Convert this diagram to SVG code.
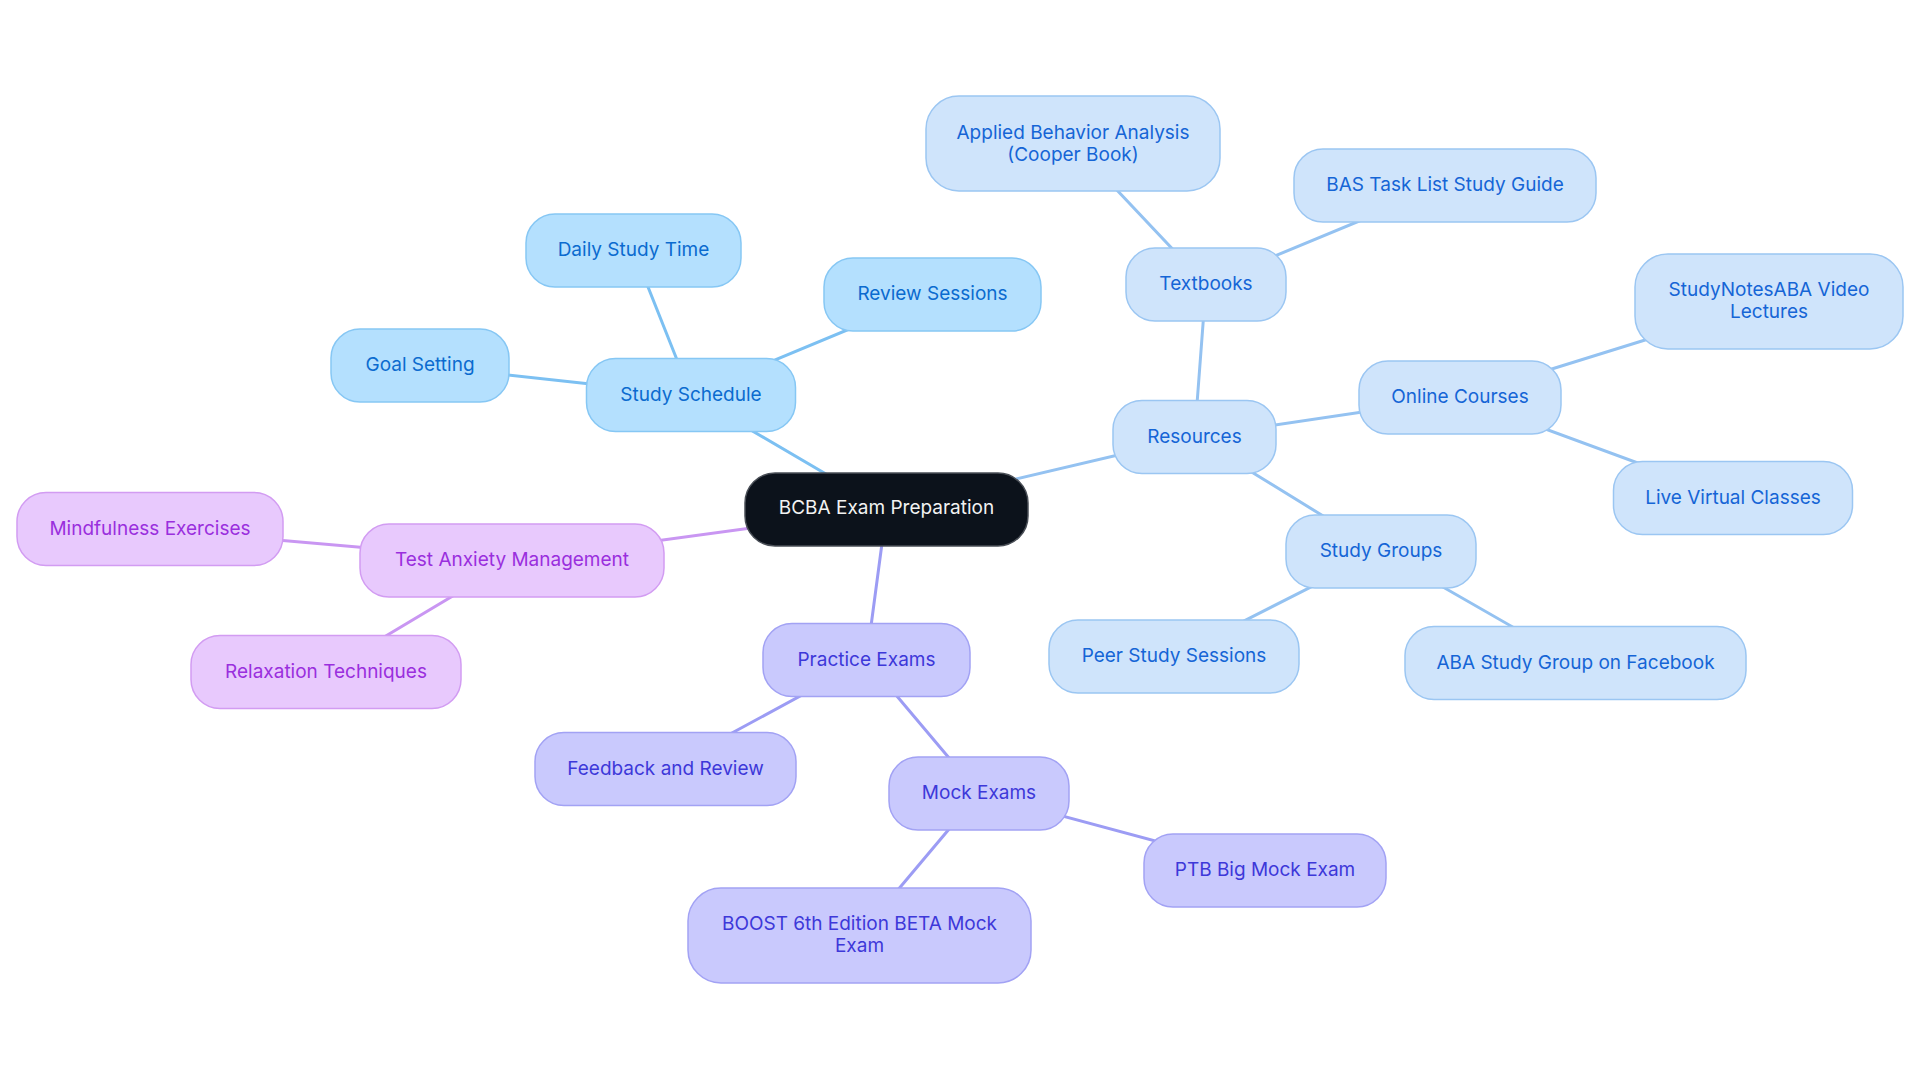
<svg xmlns="http://www.w3.org/2000/svg" width="1920" height="1083" viewBox="0 0 1920 1083">
<style>
text{font-family:Inter,"Noto Sans","Liberation Sans",sans-serif;font-size:19px;text-anchor:middle}
.e{fill:none;stroke-width:3;stroke-linecap:round}
.es{stroke:#7cc0f2}.er{stroke:#94c2f1}.ea{stroke:#c996f2}.ep{stroke:#9c9cf4}
rect{stroke-width:1.5}
.root rect{fill:#0c121b;stroke:#4a4f57}.root text{fill:#f2f2f2}
.s rect{fill:#b4e0fe;stroke:#86c7f4}.s text{fill:#0b6bcf}
.r rect{fill:#cfe4fb;stroke:#9bc6f2}.r text{fill:#1565d6}
.a rect{fill:#e8c9fd;stroke:#d29cf2}.a text{fill:#9a2fdd}
.p rect{fill:#c9c9fd;stroke:#a2a2f4}.p text{fill:#3d38d9}
</style>
<rect width="1920" height="1083" fill="#ffffff"/>
<g id="connectors">
<line class="e es" x1="886.5" y1="509.5" x2="691" y2="395"/>
<line class="e es" x1="691" y1="395" x2="633.5" y2="250.5"/>
<line class="e es" x1="691" y1="395" x2="932.5" y2="294.5"/>
<line class="e es" x1="691" y1="395" x2="420" y2="365.5"/>
<line class="e er" x1="886.5" y1="509.5" x2="1194.5" y2="437"/>
<line class="e er" x1="1194.5" y1="437" x2="1206" y2="284.5"/>
<line class="e er" x1="1206" y1="284.5" x2="1073" y2="143.5"/>
<line class="e er" x1="1206" y1="284.5" x2="1445" y2="185.5"/>
<line class="e er" x1="1194.5" y1="437" x2="1460" y2="397.5"/>
<line class="e er" x1="1460" y1="397.5" x2="1769" y2="301.5"/>
<line class="e er" x1="1460" y1="397.5" x2="1733" y2="498"/>
<line class="e er" x1="1194.5" y1="437" x2="1381" y2="551.5"/>
<line class="e er" x1="1381" y1="551.5" x2="1174" y2="656.5"/>
<line class="e er" x1="1381" y1="551.5" x2="1575.5" y2="663"/>
<line class="e ea" x1="886.5" y1="509.5" x2="512" y2="560.5"/>
<line class="e ea" x1="512" y1="560.5" x2="150" y2="529"/>
<line class="e ea" x1="512" y1="560.5" x2="325.6" y2="672"/>
<line class="e ep" x1="886.5" y1="509.5" x2="866.5" y2="660"/>
<line class="e ep" x1="866.5" y1="660" x2="665.5" y2="769"/>
<line class="e ep" x1="866.5" y1="660" x2="979" y2="793.5"/>
<line class="e ep" x1="979" y1="793.5" x2="1265" y2="870.5"/>
<line class="e ep" x1="979" y1="793.5" x2="859.5" y2="935.5"/>
</g>
<g id="n-root" class="root"><rect x="745" y="473" width="283" height="73" rx="30"/><text x="886.5" y="514">BCBA Exam Preparation</text></g>
<g id="n-study-schedule" class="s"><rect x="586.5" y="358.5" width="209" height="73" rx="29"/><text x="691" y="400.5">Study Schedule</text></g>
<g id="n-daily-study-time" class="s"><rect x="526" y="214" width="215" height="73" rx="29"/><text x="633.5" y="256">Daily Study Time</text></g>
<g id="n-review-sessions" class="s"><rect x="824" y="258" width="217" height="73" rx="29"/><text x="932.5" y="300">Review Sessions</text></g>
<g id="n-goal-setting" class="s"><rect x="331" y="329" width="178" height="73" rx="29"/><text x="420" y="371">Goal Setting</text></g>
<g id="n-resources" class="r"><rect x="1113" y="400.5" width="163" height="73" rx="29"/><text x="1194.5" y="442.5">Resources</text></g>
<g id="n-textbooks" class="r"><rect x="1126" y="248" width="160" height="73" rx="29"/><text x="1206" y="290">Textbooks</text></g>
<g id="n-applied" class="r"><rect x="926" y="96" width="294" height="95" rx="33"/><text x="1073" y="138.5">Applied Behavior Analysis</text><text x="1073" y="160.5">(Cooper Book)</text></g>
<g id="n-bas" class="r"><rect x="1294" y="149" width="302" height="73" rx="29"/><text x="1445" y="191">BAS Task List Study Guide</text></g>
<g id="n-online-courses" class="r"><rect x="1359" y="361" width="202" height="73" rx="29"/><text x="1460" y="403">Online Courses</text></g>
<g id="n-studynotes" class="r"><rect x="1635" y="254" width="268" height="95" rx="33"/><text x="1769" y="296">StudyNotesABA Video</text><text x="1769" y="318">Lectures</text></g>
<g id="n-live-virtual" class="r"><rect x="1613.5" y="461.5" width="239" height="73" rx="29"/><text x="1733" y="503.5">Live Virtual Classes</text></g>
<g id="n-study-groups" class="r"><rect x="1286" y="515" width="190" height="73" rx="29"/><text x="1381" y="557">Study Groups</text></g>
<g id="n-peer-study" class="r"><rect x="1049" y="620" width="250" height="73" rx="29"/><text x="1174" y="662">Peer Study Sessions</text></g>
<g id="n-aba-facebook" class="r"><rect x="1405" y="626.5" width="341" height="73" rx="29"/><text x="1575.5" y="668.5">ABA Study Group on Facebook</text></g>
<g id="n-test-anxiety" class="a"><rect x="360" y="524" width="304" height="73" rx="29"/><text x="512" y="566">Test Anxiety Management</text></g>
<g id="n-mindfulness" class="a"><rect x="17" y="492.5" width="266" height="73" rx="29"/><text x="150" y="534.5">Mindfulness Exercises</text></g>
<g id="n-relaxation" class="a"><rect x="191" y="635.5" width="270" height="73" rx="29"/><text x="326" y="677.5">Relaxation Techniques</text></g>
<g id="n-practice-exams" class="p"><rect x="763" y="623.5" width="207" height="73" rx="29"/><text x="866.5" y="665.5">Practice Exams</text></g>
<g id="n-feedback" class="p"><rect x="535" y="732.5" width="261" height="73" rx="29"/><text x="665.5" y="774.5">Feedback and Review</text></g>
<g id="n-mock-exams" class="p"><rect x="889" y="757" width="180" height="73" rx="29"/><text x="979" y="799">Mock Exams</text></g>
<g id="n-ptb" class="p"><rect x="1144" y="834" width="242" height="73" rx="29"/><text x="1265" y="876">PTB Big Mock Exam</text></g>
<g id="n-boost" class="p"><rect x="688" y="888" width="343" height="95" rx="33"/><text x="859.5" y="930">BOOST 6th Edition BETA Mock</text><text x="859.5" y="952">Exam</text></g>
</svg>
